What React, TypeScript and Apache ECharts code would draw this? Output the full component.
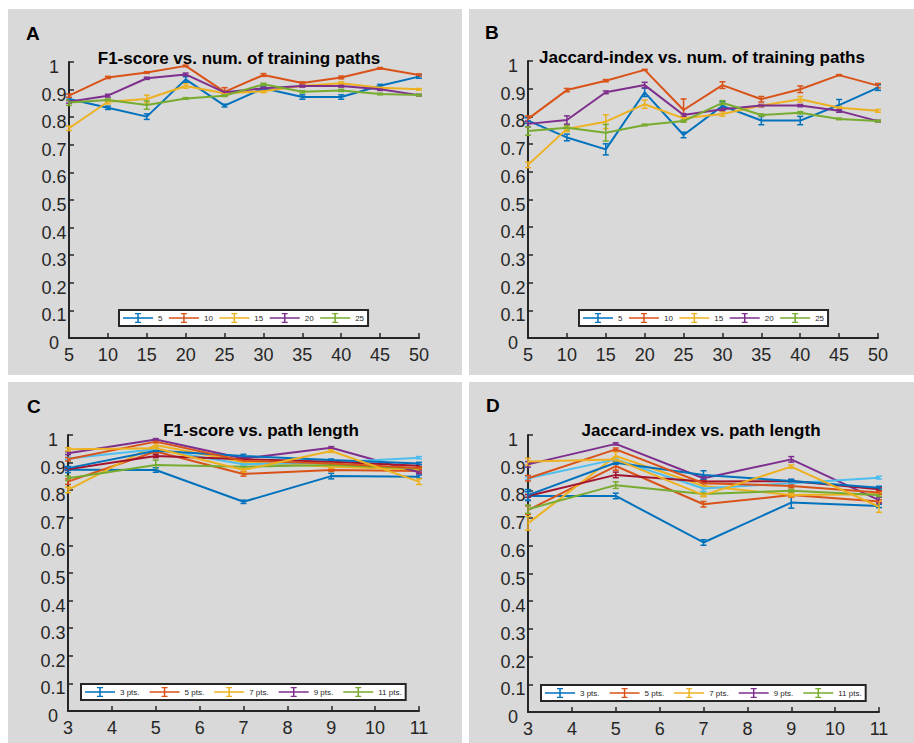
import React, { useEffect, useRef } from 'react';
import * as echarts from 'echarts';

// ---------- data ----------
const trainPaths = [5, 10, 15, 20, 25, 30, 35, 40, 45, 50];
const pathLengths = [3, 5, 7, 9, 11];
const trainLegend = ['5', '10', '15', '20', '25'];
const lengthLegend = ['3 pts.', '5 pts.', '7 pts.', '9 pts.', '11 pts.'];
const lengthNames = ['3 pts.', '5 pts.', '7 pts.', '9 pts.', '11 pts.', '13 pts.', '15 pts.', '17 pts.', '19 pts.', '21 pts.'];
const panelTitles = ['F1-score vs. num. of training paths', 'Jaccard-index vs. num. of training paths', 'F1-score vs. path length', 'Jaccard-index vs. path length'];
const panelLetters = ['A', 'B', 'C', 'D'];

// Panel A: F1 vs number of training paths
const f1Train5 = [0.866, 0.834, 0.802, 0.937, 0.842, 0.905, 0.873, 0.873, 0.914, 0.947];
const f1Train10 = [0.878, 0.944, 0.962, 0.986, 0.892, 0.953, 0.924, 0.944, 0.977, 0.953];
const f1Train15 = [0.760, 0.856, 0.866, 0.913, 0.887, 0.894, 0.914, 0.923, 0.907, 0.901];
const f1Train20 = [0.856, 0.878, 0.941, 0.955, 0.890, 0.905, 0.913, 0.913, 0.901, 0.880];
const f1Train25 = [0.853, 0.862, 0.844, 0.868, 0.878, 0.919, 0.892, 0.897, 0.884, 0.880];
const f1TrainErr5 = [0.005, 0.006, 0.010, 0.010, 0.005, 0.005, 0.008, 0.008, 0.005, 0.006];
const f1TrainErr10 = [0.006, 0.004, 0.003, 0.003, 0.015, 0.005, 0.004, 0.005, 0.003, 0.004];
const f1TrainErr15 = [0.008, 0.008, 0.014, 0.008, 0.005, 0.005, 0.004, 0.005, 0.004, 0.003];
const f1TrainErr20 = [0.005, 0.005, 0.004, 0.005, 0.004, 0.004, 0.004, 0.004, 0.004, 0.003];
const f1TrainErr25 = [0.010, 0.004, 0.015, 0.003, 0.003, 0.004, 0.004, 0.004, 0.003, 0.003];

// Panel B: Jaccard vs number of training paths
const jTrain5 = [0.785, 0.724, 0.681, 0.887, 0.733, 0.838, 0.785, 0.785, 0.841, 0.904];
const jTrain10 = [0.791, 0.895, 0.929, 0.968, 0.823, 0.913, 0.862, 0.898, 0.949, 0.911];
const jTrain15 = [0.625, 0.755, 0.781, 0.844, 0.793, 0.809, 0.839, 0.862, 0.831, 0.820];
const jTrain20 = [0.773, 0.787, 0.887, 0.913, 0.805, 0.826, 0.839, 0.839, 0.820, 0.783];
const jTrain25 = [0.747, 0.759, 0.741, 0.769, 0.783, 0.849, 0.805, 0.813, 0.791, 0.783];
const jTrainErr5 = [0.010, 0.012, 0.020, 0.015, 0.010, 0.015, 0.015, 0.015, 0.020, 0.010];
const jTrainErr10 = [0.010, 0.006, 0.004, 0.002, 0.040, 0.012, 0.010, 0.012, 0.002, 0.008];
const jTrainErr15 = [0.010, 0.010, 0.025, 0.015, 0.008, 0.008, 0.004, 0.010, 0.005, 0.005];
const jTrainErr20 = [0.010, 0.015, 0.005, 0.010, 0.005, 0.005, 0.004, 0.004, 0.005, 0.003];
const jTrainErr25 = [0.015, 0.008, 0.030, 0.003, 0.004, 0.008, 0.004, 0.004, 0.003, 0.003];

// Panel C: F1 vs path length (10 series)
const f1Len = [
  [0.874, 0.873, 0.758, 0.851, 0.849],
  [0.831, 0.940, 0.859, 0.873, 0.870],
  [0.801, 0.964, 0.901, 0.885, 0.875],
  [0.934, 0.984, 0.915, 0.954, 0.865],
  [0.843, 0.891, 0.885, 0.891, 0.879],
  [0.915, 0.948, 0.894, 0.900, 0.918],
  [0.876, 0.924, 0.912, 0.903, 0.889],
  [0.880, 0.943, 0.924, 0.909, 0.897],
  [0.912, 0.976, 0.907, 0.897, 0.880],
  [0.948, 0.952, 0.873, 0.942, 0.831],
];
const f1LenErr = [
  [0.010, 0.008, 0.006, 0.010, 0.006],
  [0.010, 0.005, 0.008, 0.005, 0.005],
  [0.010, 0.008, 0.005, 0.005, 0.005],
  [0.005, 0.003, 0.004, 0.004, 0.005],
  [0.008, 0.018, 0.008, 0.005, 0.004],
  [0.004, 0.004, 0.004, 0.004, 0.004],
  [0.004, 0.006, 0.004, 0.004, 0.004],
  [0.006, 0.004, 0.006, 0.004, 0.004],
  [0.006, 0.004, 0.004, 0.006, 0.004],
  [0.006, 0.006, 0.008, 0.005, 0.010],
];

// Panel D: Jaccard vs path length (10 series)
const jLen = [
  [0.780, 0.780, 0.612, 0.756, 0.744],
  [0.729, 0.888, 0.750, 0.783, 0.760],
  [0.681, 0.924, 0.816, 0.783, 0.786],
  [0.894, 0.968, 0.844, 0.912, 0.765],
  [0.732, 0.819, 0.787, 0.799, 0.783],
  [0.844, 0.912, 0.807, 0.826, 0.846],
  [0.780, 0.856, 0.832, 0.834, 0.804],
  [0.783, 0.900, 0.856, 0.834, 0.810],
  [0.844, 0.948, 0.826, 0.816, 0.792],
  [0.904, 0.912, 0.783, 0.886, 0.741],
];
const jLenErr = [
  [0.015, 0.010, 0.010, 0.020, 0.006],
  [0.015, 0.015, 0.010, 0.008, 0.006],
  [0.025, 0.015, 0.010, 0.006, 0.006],
  [0.010, 0.004, 0.006, 0.010, 0.010],
  [0.015, 0.012, 0.008, 0.005, 0.005],
  [0.005, 0.005, 0.010, 0.005, 0.005],
  [0.005, 0.010, 0.005, 0.005, 0.005],
  [0.020, 0.006, 0.015, 0.006, 0.005],
  [0.010, 0.005, 0.008, 0.006, 0.005],
  [0.012, 0.010, 0.006, 0.006, 0.020],
];

const matlabColors = ['#0072BD', '#D95319', '#EDB120', '#7E2F8E', '#77AC30', '#4DBEEE', '#A2142F'];

// ---------- styles ----------
const FONT = '"Liberation Sans", Arial, Helvetica, sans-serif';
const INK = '#262626';
const PANEL_BG = '#d9d9d9';
const errIcon = 'path://M0,4.25h30v1.5h-30z M14.25,0.6h1.5v8.8h-1.5z M12,0h6v1.3h-6z M12,8.7h6v1.3h-6z';

const panelRects = [
  { x: 8, y: 9, w: 454, h: 366 },
  { x: 469, y: 9, w: 445, h: 366 },
  { x: 8, y: 382, w: 454, h: 361 },
  { x: 469, y: 382, w: 445, h: 361 },
];
const grids = [
  { left: 69, top: 62, width: 350, height: 276 },
  { left: 528, top: 61, width: 350, height: 277 },
  { left: 68, top: 435, width: 351, height: 276 },
  { left: 528, top: 435, width: 351, height: 277 },
];
const titlePos = [
  { x: 239, y: 67 },
  { x: 702, y: 66 },
  { x: 261, y: 439 },
  { x: 701, y: 439 },
];
const letterPos = [
  { x: 26, y: 43 },
  { x: 485, y: 42 },
  { x: 27, y: 416 },
  { x: 486, y: 415 },
];
const legendPos = [
  { left: 119, top: 310, gap: 6.5 },
  { left: 579, top: 310, gap: 6.5 },
  { left: 81, top: 684, gap: 10 },
  { left: 541, top: 685, gap: 10 },
];

function buildOption() {
  const series: any[] = [];
  const addSeries = (gi: number, xs: number[], name: string, vals: number[], errs: number[], color: string) => {
    series.push({
      type: 'line',
      name,
      xAxisIndex: gi,
      yAxisIndex: gi,
      data: xs.map((x, i) => [x, vals[i]]),
      showSymbol: false,
      symbol: 'none',
      lineStyle: { width: 2, color },
      itemStyle: { color },
      emphasis: { disabled: true },
      silent: true,
    });
    series.push({
      type: 'custom',
      name: name + ' error',
      xAxisIndex: gi,
      yAxisIndex: gi,
      encode: { x: 0, y: 1 },
      data: xs.map((x, i) => [x, vals[i], errs[i]]),
      silent: true,
      renderItem: (params: any, api: any) => {
        const x = api.value(0);
        const y = api.value(1);
        const e = api.value(2);
        const p1 = api.coord([x, y + e]);
        const p2 = api.coord([x, y - e]);
        const style = { stroke: color, lineWidth: 1.5, fill: 'none' };
        return {
          type: 'group',
          children: [
            { type: 'line', shape: { x1: p1[0], y1: p1[1], x2: p2[0], y2: p2[1] }, style },
            { type: 'line', shape: { x1: p1[0] - 3, y1: p1[1], x2: p1[0] + 3, y2: p1[1] }, style },
            { type: 'line', shape: { x1: p2[0] - 3, y1: p2[1], x2: p2[0] + 3, y2: p2[1] }, style },
          ],
        };
      },
    });
  };

  const trainA = [f1Train5, f1Train10, f1Train15, f1Train20, f1Train25];
  const trainAErr = [f1TrainErr5, f1TrainErr10, f1TrainErr15, f1TrainErr20, f1TrainErr25];
  const trainB = [jTrain5, jTrain10, jTrain15, jTrain20, jTrain25];
  const trainBErr = [jTrainErr5, jTrainErr10, jTrainErr15, jTrainErr20, jTrainErr25];
  trainLegend.forEach((n, i) => addSeries(0, trainPaths, n, trainA[i], trainAErr[i], matlabColors[i % 7]));
  trainLegend.forEach((n, i) => addSeries(1, trainPaths, n, trainB[i], trainBErr[i], matlabColors[i % 7]));
  lengthNames.forEach((n, i) => addSeries(2, pathLengths, n, f1Len[i], f1LenErr[i], matlabColors[i % 7]));
  lengthNames.forEach((n, i) => addSeries(3, pathLengths, n, jLen[i], jLenErr[i], matlabColors[i % 7]));

  const axisCommon = {
    axisLine: { show: true, onZero: false, lineStyle: { color: INK, width: 2 } },
    axisTick: { show: true, inside: true, length: 5, lineStyle: { color: INK, width: 1.5 } },
    splitLine: { show: false },
  };

  const xAxis = grids.map((_, gi) => ({
    type: 'value',
    gridIndex: gi,
    min: gi < 2 ? 5 : 3,
    max: gi < 2 ? 50 : 11,
    interval: gi < 2 ? 5 : 1,
    ...axisCommon,
    axisLabel: { fontSize: 18, color: INK, fontFamily: FONT, margin: 8 },
  }));
  const yAxis = grids.map((_, gi) => ({
    type: 'value',
    gridIndex: gi,
    min: 0,
    max: 1,
    interval: 0.1,
    ...axisCommon,
    axisLabel: {
      fontSize: 18,
      color: INK,
      fontFamily: FONT,
      margin: 15,
      align: 'center',
      verticalAlign: 'top',
      lineHeight: 10,
    },
  }));

  const legend = legendPos.map((p, gi) => ({
    data: gi < 2 ? trainLegend : lengthLegend,
    left: p.left,
    top: p.top,
    orient: 'horizontal',
    icon: errIcon,
    itemWidth: 30,
    itemHeight: 10,
    itemGap: p.gap,
    padding: [3, 4, 3, 4],
    backgroundColor: '#ffffff',
    borderColor: INK,
    borderWidth: 2,
    selectedMode: false,
    itemStyle: { borderWidth: 0 },
    textStyle: { fontSize: 8, color: INK, fontFamily: FONT },
  }));

  const graphic: any[] = [];
  panelRects.forEach((r) => {
    graphic.push({ type: 'rect', z: -10, silent: true, shape: { x: r.x, y: r.y, width: r.w, height: r.h }, style: { fill: PANEL_BG } });
  });
  panelTitles.forEach((t, i) => {
    graphic.push({
      type: 'text', z: 10, silent: true,
      x: titlePos[i].x, y: titlePos[i].y,
      style: { text: t, font: `bold 17px ${FONT}`, fill: '#000', align: 'center', verticalAlign: 'bottom', textAlign: 'center', textVerticalAlign: 'bottom' },
    });
  });
  panelLetters.forEach((t, i) => {
    graphic.push({
      type: 'text', z: 10, silent: true,
      x: letterPos[i].x, y: letterPos[i].y,
      style: { text: t, font: `bold 19px ${FONT}`, fill: '#000', align: 'left', verticalAlign: 'bottom', textAlign: 'left', textVerticalAlign: 'bottom' },
    });
  });

  return {
    animation: false,
    backgroundColor: '#ffffff',
    grid: grids,
    xAxis,
    yAxis,
    legend,
    series,
    graphic,
  };
}

export default function App() {
  const ref = useRef<HTMLDivElement>(null);
  useEffect(() => {
    document.body.style.margin = '0';
    if (!ref.current) return;
    const chart = echarts.init(ref.current, null, { renderer: 'svg' });
    chart.setOption(buildOption() as any);
    return () => chart.dispose();
  }, []);
  return <div ref={ref} style={{ width: 914, height: 743 }} />;
}
